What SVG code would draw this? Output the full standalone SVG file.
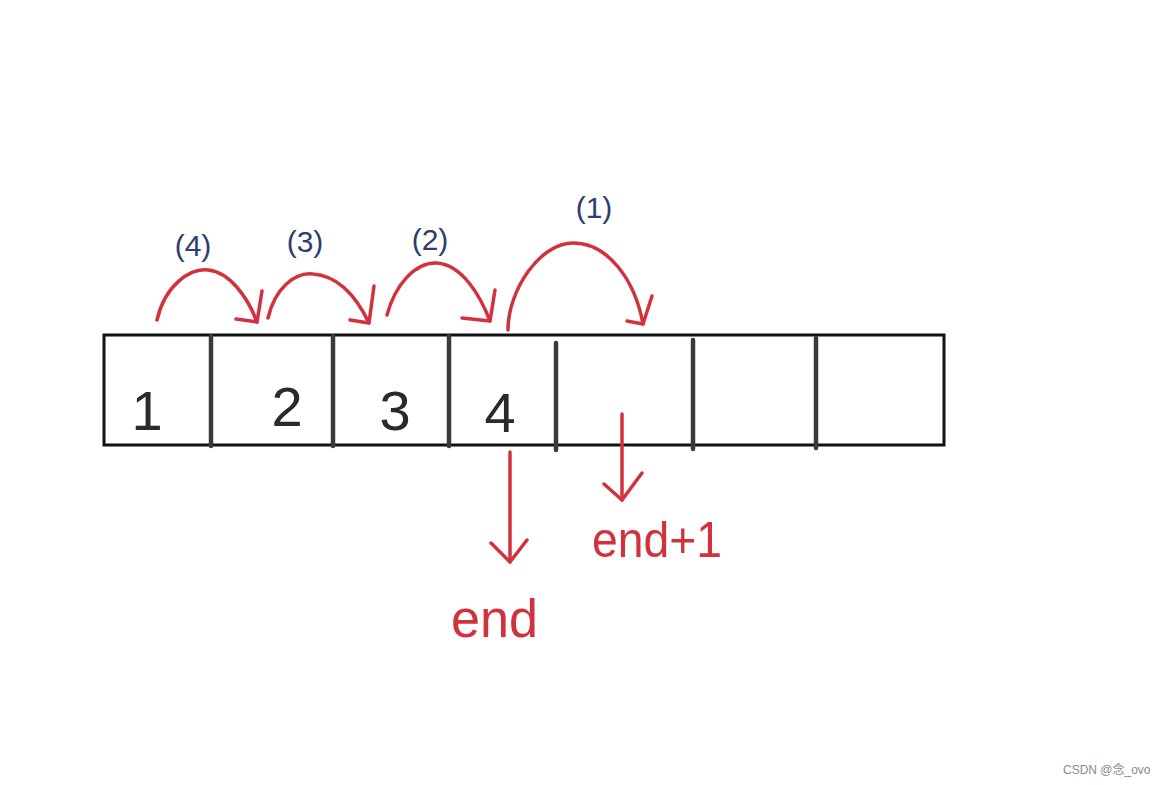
<svg xmlns="http://www.w3.org/2000/svg" width="1166" height="785" viewBox="0 0 1166 785">
<style>
.box{fill:none;stroke:#111;stroke-width:3}
.div{stroke:#3a3a3a;stroke-width:4.5;stroke-linecap:round}
.num{font-family:"Liberation Sans",Arial,sans-serif;font-size:56px;fill:#2a2a2a}
.red{fill:none;stroke:#d1323e;stroke-width:3.5;stroke-linecap:round;stroke-linejoin:round}
.lbl{font-family:"Liberation Sans",Arial,sans-serif;font-size:30px;fill:#2e3d6e}
.rt{font-family:"Liberation Sans",Arial,sans-serif;fill:#d1323e}
.wm{font-family:"Liberation Sans","Noto Sans CJK SC",sans-serif;font-size:12px;fill:#8a8a8a}
</style>
<rect width="1166" height="785" fill="#fff"/>
<g id="array">
<rect class="box" x="104" y="335" width="840" height="110"/>
<line class="div" x1="211" y1="336" x2="211" y2="446"/>
<line class="div" x1="333" y1="336" x2="333" y2="446"/>
<line class="div" x1="449" y1="336" x2="449" y2="446"/>
<line class="div" x1="556" y1="343" x2="556" y2="450"/>
<line class="div" x1="693" y1="340" x2="693" y2="449"/>
<line class="div" x1="816" y1="338" x2="816" y2="448"/>
</g>
<g id="n1"><text class="num" x="147" y="430" text-anchor="middle">1</text></g>
<g id="n2"><text class="num" x="287" y="426" text-anchor="middle">2</text></g>
<g id="n3"><text class="num" x="395" y="430" text-anchor="middle">3</text></g>
<g id="n4"><text class="num" x="500" y="432" text-anchor="middle">4</text></g>
<g id="labels">
<text class="lbl" x="193" y="256" text-anchor="middle">(4)</text>
<text class="lbl" x="305" y="252" text-anchor="middle">(3)</text>
<text class="lbl" x="430" y="250" text-anchor="middle">(2)</text>
<text class="lbl" x="594" y="218" text-anchor="middle">(1)</text>
</g>
<g id="connectors">
<path class="red" d="M157,320 C165,285 190,268 208,270 C230,272 248,298 257,322"/>
<path class="red" d="M236,319 L257,322 L262,291"/>
<path class="red" d="M268,318 C275,288 295,272 313,274 C340,276 358,300 369,323"/>
<path class="red" d="M350,320 L369,323 L374,286"/>
<path class="red" d="M387,315 C395,285 415,262 437,263 C462,265 480,295 490,321"/>
<path class="red" d="M462,318 L490,321 L495,290"/>
<path class="red" d="M508,330 C508,290 540,243 573,243 C608,243 635,280 643,324"/>
<path class="red" d="M627,321 L643,324 L652,296"/>
<path class="red" d="M510,452 L510,562"/>
<path class="red" d="M491,543 L510,562 L527,540"/>
<path class="red" d="M622,414 L622,500"/>
<path class="red" d="M604,484 L622,500 L642,473"/>
</g>
<g id="end"><text class="rt" x="451" y="637" font-size="54" textLength="87" lengthAdjust="spacingAndGlyphs">end</text></g>
<g id="endplus1"><text class="rt" x="592" y="557" font-size="50" textLength="130" lengthAdjust="spacingAndGlyphs">end+1</text></g>
<text class="wm" x="1063" y="774">CSDN @念_ovo</text>
</svg>
